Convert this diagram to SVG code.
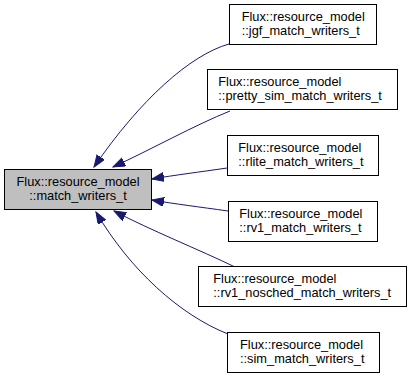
<svg xmlns="http://www.w3.org/2000/svg" width="412" height="379" viewBox="0 0 412 379">
  <defs>
    <style>
      .node rect { fill: #ffffff; stroke: #000000; stroke-width: 1; }
      #node_main rect { fill: #bfbfbf; }
      .node text { font-family: "Liberation Sans", Arial, Helvetica, sans-serif; font-size: 12.8px; fill: #000000; }
      .edge { fill: none; stroke: #191970; stroke-width: 1; marker-end: url(#arrow); }
    </style>
    <marker id="arrow" markerUnits="userSpaceOnUse" markerWidth="13" markerHeight="10" refX="12" refY="4.5" orient="auto">
      <path d="M0,0 L12,4.5 L0,9 z" fill="#191970" stroke="#191970" stroke-width="1"/>
    </marker>
  </defs>
  <rect width="412" height="379" fill="#ffffff"/>

  <!-- inheritance edges: derived writers -> base class -->
  <g id="edges">
    <path class="edge" d="M229,44 C190,55 140,100 94,167"/>
    <path class="edge" d="M230,111 C195,125 150,150 113,167"/>
    <path class="edge" d="M227,168 C200,172 175,175 152,179"/>
    <path class="edge" d="M228,211 C200,207 175,204 152,200"/>
    <path class="edge" d="M235,267 C200,250 150,230 114,211"/>
    <path class="edge" d="M228,334 C180,315 130,270 96,212"/>
  </g>

  <!-- base class -->
  <g id="node_main" class="node">
    <rect x="4.5" y="169.5" width="147" height="40"/>
    <text x="78" y="186" text-anchor="middle">Flux::resource_model</text>
    <text x="78" y="200" text-anchor="middle">::match_writers_t</text>
  </g>

  <!-- derived classes -->
  <g id="node_jgf" class="node">
    <rect x="229.5" y="4.5" width="147" height="40"/>
    <text x="241.7" y="21">Flux::resource_model</text>
    <text x="241.7" y="35">::jgf_match_writers_t</text>
  </g>
  <g id="node_pretty_sim" class="node">
    <rect x="207.5" y="69.5" width="190" height="40"/>
    <text x="218.3" y="86">Flux::resource_model</text>
    <text x="218.3" y="100">::pretty_sim_match_writers_t</text>
  </g>
  <g id="node_rlite" class="node">
    <rect x="227.5" y="135.5" width="151" height="40"/>
    <text x="238.3" y="152">Flux::resource_model</text>
    <text x="238.3" y="166">::rlite_match_writers_t</text>
  </g>
  <g id="node_rv1" class="node">
    <rect x="228.5" y="201.5" width="149" height="40"/>
    <text x="239.3" y="218">Flux::resource_model</text>
    <text x="239.3" y="232">::rv1_match_writers_t</text>
  </g>
  <g id="node_rv1_nosched" class="node">
    <rect x="198.5" y="266.5" width="208" height="40"/>
    <text x="213.3" y="283">Flux::resource_model</text>
    <text x="213.3" y="297">::rv1_nosched_match_writers_t</text>
  </g>
  <g id="node_sim" class="node">
    <rect x="227.5" y="332.5" width="152" height="40"/>
    <text x="240" y="349">Flux::resource_model</text>
    <text x="240" y="363">::sim_match_writers_t</text>
  </g>
</svg>
